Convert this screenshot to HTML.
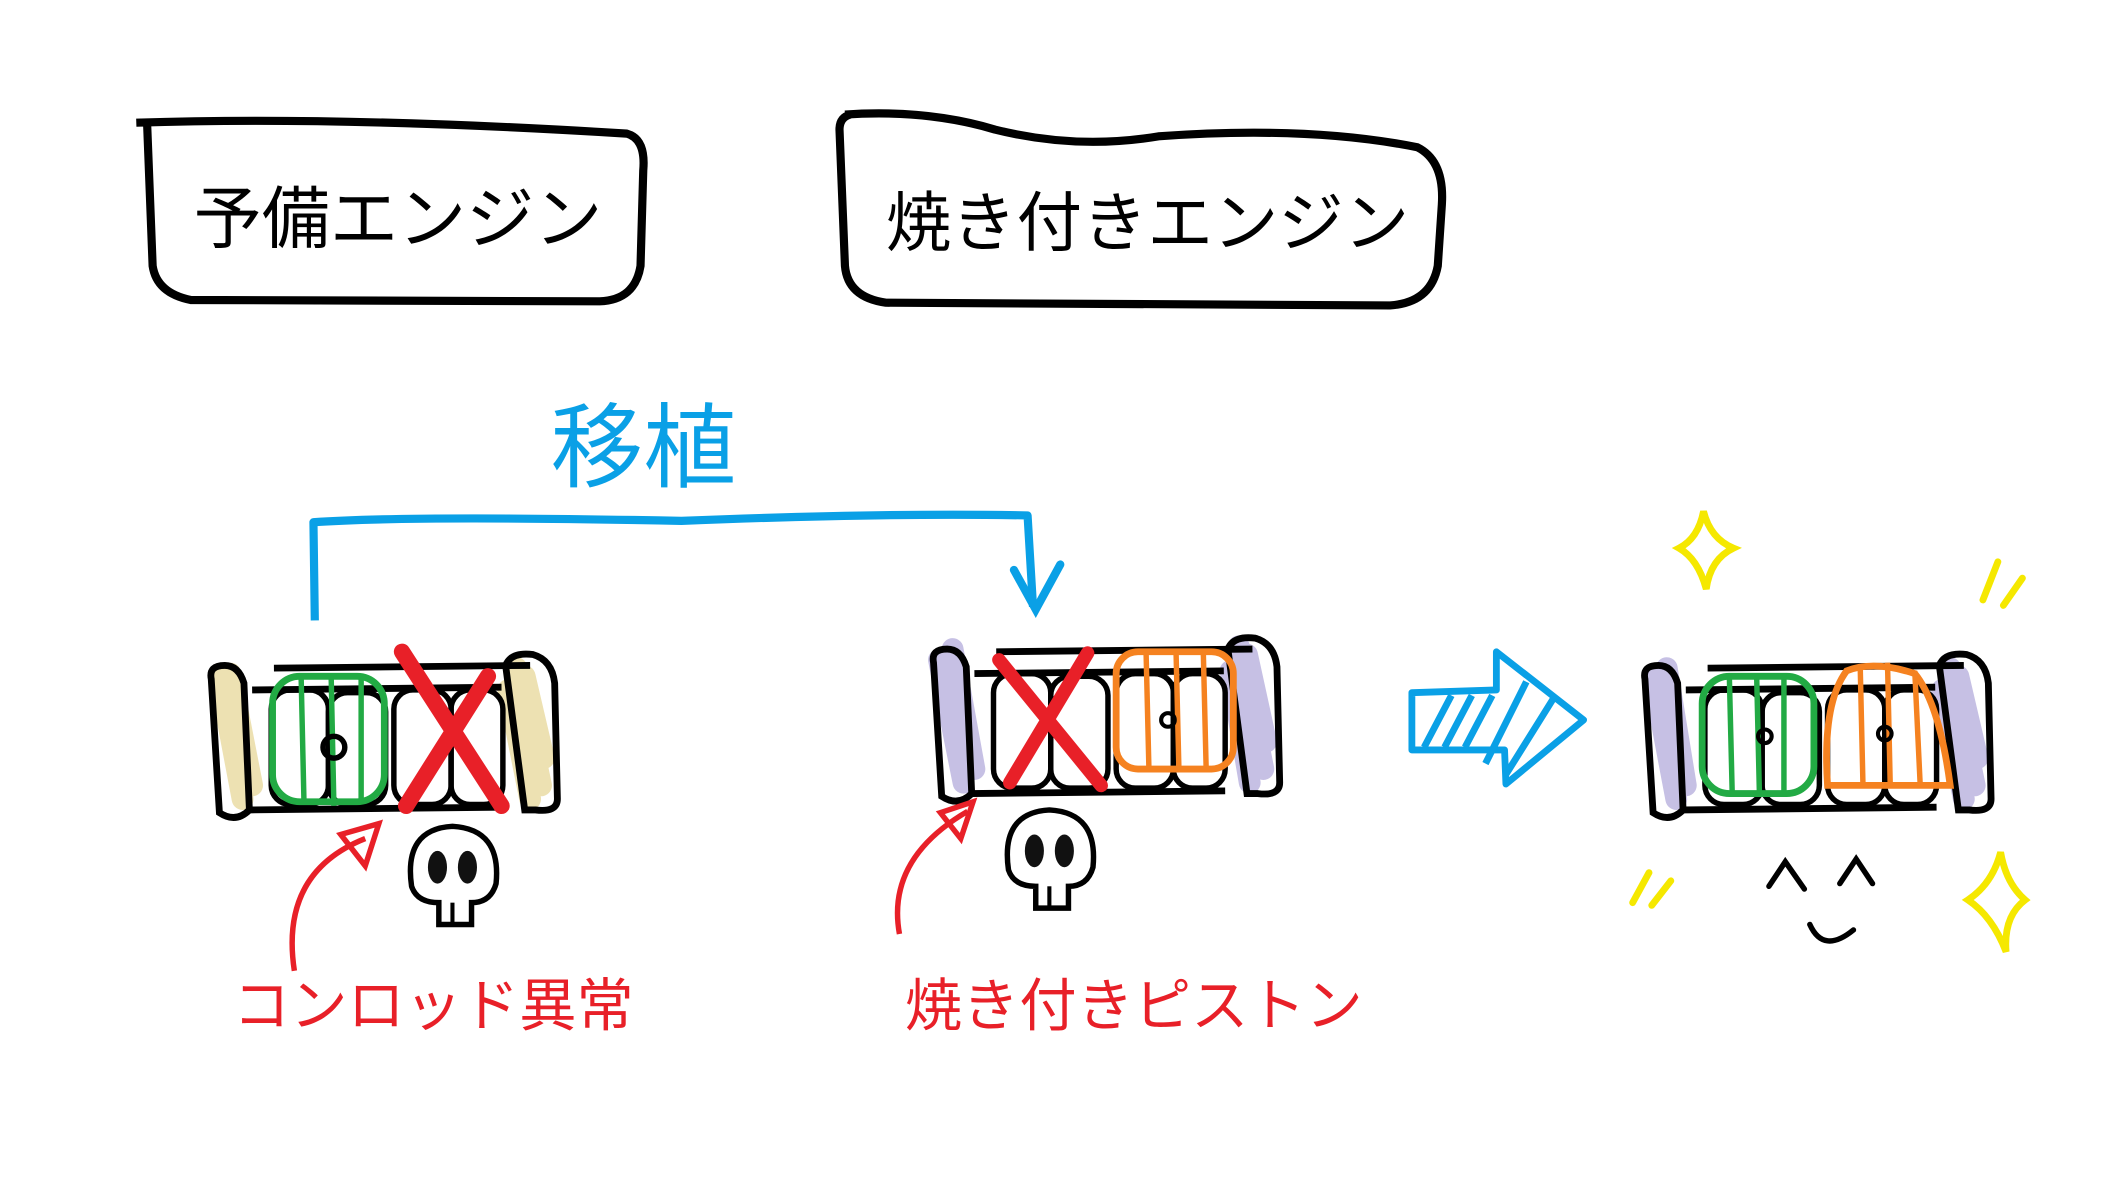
<!DOCTYPE html>
<html><head><meta charset="utf-8"><style>
html,body{margin:0;padding:0;background:#fff;width:2126px;height:1204px;overflow:hidden}
svg{display:block}
text{font-family:"Liberation Sans","Noto Sans CJK JP",sans-serif}
</style></head><body>
<svg width="2126" height="1204" viewBox="0 0 1560 883" preserveAspectRatio="none" xmlns="http://www.w3.org/2000/svg">
<defs>
<g id="eng">
 <path d="M2,22 Q0,12 12,12 Q22,12 26,25 L30,118 Q20,128 8,120 Z" fill="none" stroke="#000" stroke-width="5"/>
 <path d="M218,12 Q222,2 238,4 Q252,8 254,25 L256,110 Q256,120 240,118 L232,118 Z" fill="none" stroke="#000" stroke-width="5"/>
 <path d="M48,14 L236,12" stroke="#000" stroke-width="5"/>
 <path d="M32,30 L215,28 M30,118 L216,116" stroke="#000" stroke-width="5" fill="none"/>
 <rect x="46" y="30" width="42" height="84" rx="14" fill="none" stroke="#000" stroke-width="4"/>
 <rect x="88" y="32" width="42" height="82" rx="14" fill="none" stroke="#000" stroke-width="4"/>
 <rect x="136" y="30" width="42" height="84" rx="14" fill="none" stroke="#000" stroke-width="4"/>
 <rect x="178" y="30" width="38" height="84" rx="14" fill="none" stroke="#000" stroke-width="4"/>
</g>
</defs>

<path d="M100,90 Q250,85 460,98 Q474,102 472,125 L470,195 Q466,220 440,221 L140,220 Q115,215 112,195 L108,92" fill="none" stroke="#000" stroke-width="6"/>
<text x="292" y="178" font-size="50" text-anchor="middle" fill="#000">予備エンジン</text>
<path d="M620,84 Q680,80 730,95 Q790,110 850,100 Q960,92 1040,108 Q1060,118 1058,150 L1055,195 Q1050,222 1020,224 L650,222 Q622,218 620,195 L616,95 Q616,86 624,84" fill="none" stroke="#000" stroke-width="6"/>
<text x="842" y="180" font-size="48" text-anchor="middle" fill="#000">焼き付きエンジン</text>

<text x="472" y="352" font-size="68" text-anchor="middle" fill="#0aa0e6">移植</text>
<path d="M231,455 L230,383 Q300,378 500,382 Q650,376 754,378 L758,445" fill="none" stroke="#0aa0e6" stroke-width="6" stroke-linejoin="round"/>
<path d="M744,418 L760,447 L778,414" fill="none" stroke="#0aa0e6" stroke-width="6" stroke-linecap="round"/>

<g transform="translate(153,476)">
 <path d="M8,20 L25,110 M16,18 L32,100 M226,14 L244,100 M220,30 L236,110 M232,20 L246,80" stroke="#ede1b2" stroke-width="16" stroke-linecap="round"/>
 <use href="#eng"/>
 <rect x="47" y="20" width="82" height="92" rx="20" fill="none" stroke="#22aa44" stroke-width="5"/>
 <path d="M68,22 L70,110 M90,20 L92,115 M112,22 L112,110" stroke="#22aa44" stroke-width="4"/>
 <circle cx="92" cy="72" r="8" fill="none" stroke="#000" stroke-width="4"/>
 <path d="M142,2 L215,115 M145,115 L205,20" stroke="#e82028" stroke-width="12" stroke-linecap="round"/>
</g>
<g transform="translate(683,464)">
 <path d="M6,20 L24,110 M16,12 L32,100 M226,10 L244,100 M220,28 L234,110 M232,16 L246,80" stroke="#c6c0e4" stroke-width="16" stroke-linecap="round"/>
 <use href="#eng"/>
 <rect x="136" y="14" width="86" height="86" rx="16" fill="none" stroke="#f58220" stroke-width="5"/>
 <path d="M158,16 L160,98 M180,16 L182,98 M200,16 L202,98" stroke="#f58220" stroke-width="4"/>
 <circle cx="174" cy="64" r="5" fill="none" stroke="#000" stroke-width="3"/>
 <path d="M50,20 L125,112 M58,110 L115,15" stroke="#e82028" stroke-width="10" stroke-linecap="round"/>
</g>
<g transform="translate(1205,476)">
 <path d="M8,20 L25,110 M18,14 L32,100 M226,14 L244,100 M220,30 L236,110 M232,20 L246,80" stroke="#c6c0e4" stroke-width="16" stroke-linecap="round"/>
 <use href="#eng"/>
 <rect x="44" y="20" width="82" height="86" rx="20" fill="none" stroke="#22aa44" stroke-width="5"/>
 <path d="M64,22 L66,104 M84,20 L86,106 M104,22 L104,104" stroke="#22aa44" stroke-width="4"/>
 <path d="M136,100 Q132,40 150,16 Q170,8 200,18 Q218,40 226,100 Z" fill="none" stroke="#f58220" stroke-width="5"/>
 <path d="M160,14 L162,100 M180,10 L182,100 M200,16 L204,100" stroke="#f58220" stroke-width="4"/>
 <circle cx="90" cy="64" r="5" fill="none" stroke="#000" stroke-width="3"/>
 <circle cx="178" cy="62" r="5" fill="none" stroke="#000" stroke-width="3"/>
</g>

<g transform="translate(332,640)">
 <path d="M-30,10 Q-36,-32 0,-34 Q36,-32 32,8 Q28,22 14,22 L14,38 L-10,38 L-10,22 Q-26,22 -30,10 Z" fill="none" stroke="#000" stroke-width="4"/>
 <ellipse cx="-11" cy="-4" rx="7" ry="12" fill="#111"/><ellipse cx="11" cy="-4" rx="7" ry="12" fill="#111"/>
 <path d="M0,22 L0,38" stroke="#000" stroke-width="3"/>
</g>
<g transform="translate(770,628)">
 <path d="M-30,10 Q-36,-32 0,-34 Q36,-32 32,8 Q28,22 14,22 L14,38 L-10,38 L-10,22 Q-26,22 -30,10 Z" fill="none" stroke="#000" stroke-width="4"/>
 <ellipse cx="-11" cy="-4" rx="7" ry="12" fill="#111"/><ellipse cx="11" cy="-4" rx="7" ry="12" fill="#111"/>
 <path d="M0,22 L0,38" stroke="#000" stroke-width="3"/>
</g>

<path d="M216,712 Q205,640 268,615" fill="none" stroke="#e82028" stroke-width="4"/>
<path d="M250,612 L278,604 L268,635 Z" fill="none" stroke="#e82028" stroke-width="4"/>
<path d="M660,685 Q650,630 710,595" fill="none" stroke="#e82028" stroke-width="4"/>
<path d="M690,596 L714,588 L705,615 Z" fill="none" stroke="#e82028" stroke-width="4"/>
<text x="318" y="752" font-size="42" text-anchor="middle" fill="#e82028">コンロッド異常</text>
<text x="832" y="752" font-size="42" text-anchor="middle" fill="#e82028">焼き付きピストン</text>

<path d="M1036,508 L1098,506 L1098,478 L1162,528 L1105,575 L1104,550 L1036,550 Z" fill="none" stroke="#0aa0e6" stroke-width="5" stroke-linejoin="round"/>
<path d="M1045,548 L1065,510 M1060,548 L1080,510 M1075,548 L1095,510 M1090,560 L1120,500 M1105,568 L1140,512" stroke="#0aa0e6" stroke-width="5"/>

<path d="M1250,375 Q1255,395 1272,402 Q1255,410 1252,432 Q1246,410 1232,402 Q1246,395 1250,375 Z" fill="none" stroke="#f5e800" stroke-width="5"/>
<path d="M1468,625 Q1472,648 1486,660 Q1470,672 1472,698 Q1462,672 1444,660 Q1462,648 1468,625 Z" fill="none" stroke="#f5e800" stroke-width="5"/>
<path d="M1466,412 L1455,440 M1484,424 L1470,444 M1210,640 L1198,662 M1226,646 L1212,664" stroke="#f5e800" stroke-width="5" stroke-linecap="round"/>

<path d="M1298,650 L1310,632 L1324,652 M1350,648 L1362,630 L1374,648 M1328,678 Q1338,700 1360,682" fill="none" stroke="#000" stroke-width="4" stroke-linecap="round"/>
</svg>
</body></html>
